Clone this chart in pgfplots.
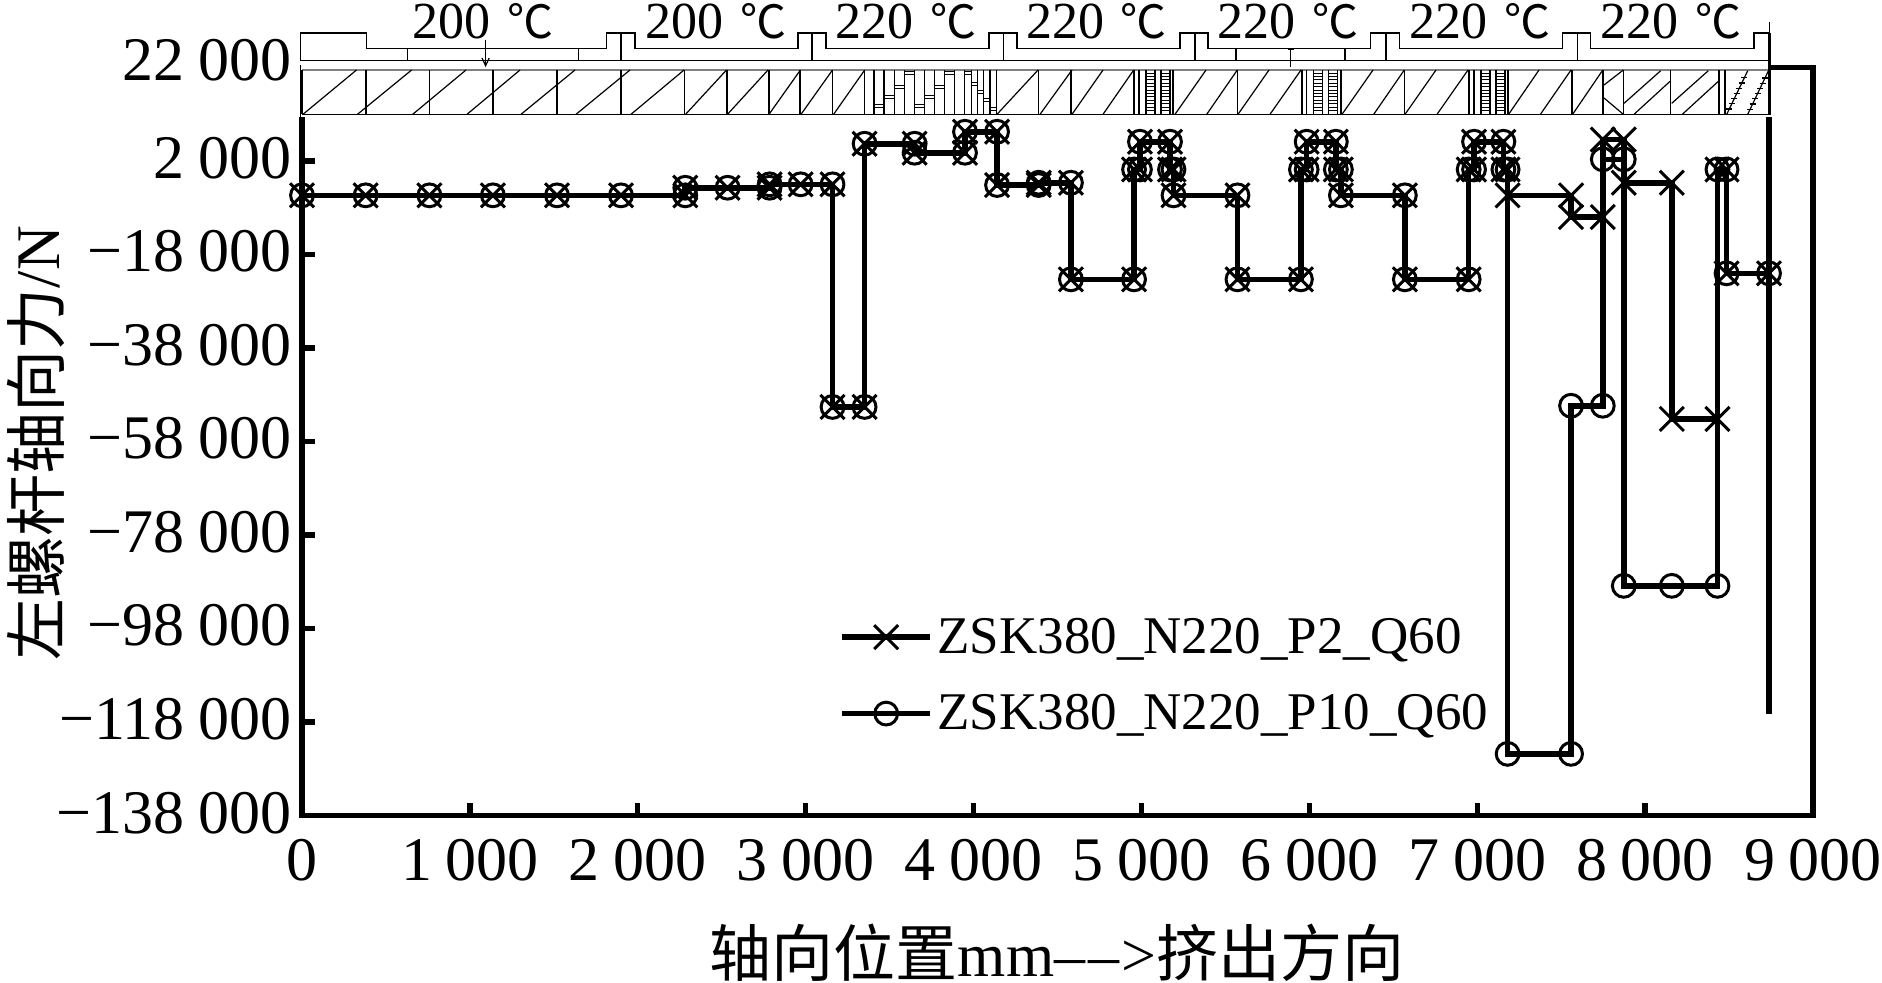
\documentclass[border=0pt]{standalone}
\usepackage{fontspec}
\setmainfont{Liberation Serif}
\newfontfamily\cjk{Noto Sans CJK SC}
\usepackage{pgfplots}
\pgfplotsset{compat=1.18}
\newcommand{\fsize}[1]{\fontsize{#1}{#1}\selectfont}
\newcommand{\sep}{\kern.22em}
\begin{document}
\begin{tikzpicture}
% one pixel of the reference is 0.5pt here
\path[use as bounding box] (0,0) rectangle (941pt,-491pt);
\begin{axis}[
    at={(151pt,-33.75pt)}, anchor=north west,
    scale only axis, width=755.5pt, height=374.1pt,
    xmin=0, xmax=9000, ymin=-138000, ymax=22000,
    clip=false,
    axis line style={line width=2.7pt},
    tick align=inside, major tick length=6.4pt,
    major tick style={line width=2.7pt, black},
    xtick pos=bottom, ytick pos=left,
    scaled ticks=false,
    xtick={0,1000,2000,3000,4000,5000,6000,7000,8000,9000},
    xticklabels={0,1\sep 000,2\sep 000,3\sep 000,4\sep 000,5\sep 000,6\sep 000,7\sep 000,8\sep 000,9\sep 000},
    ytick={-138000,-118000,-98000,-78000,-58000,-38000,-18000,2000,22000},
    yticklabels={−138\sep 000,−118\sep 000,−98\sep 000,−78\sep 000,−58\sep 000,−38\sep 000,−18\sep 000,2\sep 000,\raisebox{4.5pt}{22\sep 000}},
    tick label style={font=\fsize{31}},
    x tick label style={inner sep=0pt, yshift=-11.8pt},
    y tick label style={inner sep=0pt, xshift=-5pt, yshift=1.5pt},
    every axis x label/.style={at={(axis description cs:0.4997,-0.1835)},anchor=center,font=\fsize{31}},
    every axis y label/.style={at={(axis description cs:-0.176,0.498)},rotate=90,anchor=center,font=\fsize{31}},
    xlabel={{\cjk 轴向位置}mm--\kern1.5pt--\kern1pt>{\cjk 挤出方向}},
    ylabel={{\cjk 左螺杆轴向力}/N},
    legend style={at={(0.3554,0.1876)}, anchor=west, draw=none, fill=none,
        font=\fsize{26.5}, row sep=14.5pt, inner sep=0pt, nodes={inner sep=2.3pt}},
    legend cell align=left,
    legend image code/.code={
        \draw[#1] (0pt,0pt) -- (44pt,0pt);
        \draw[#1] plot coordinates {(22pt,0pt)};
    },
]

\addplot[black, line width=2.8pt, line join=miter, mark=x, mark size=8.5pt,
    mark options={solid, line width=1.5pt}]
    coordinates {
    (0,-5335) (379,-5335) (759,-5335) (1137,-5335) (1519,-5335) (1900,-5335) (2283,-5335)
    (2283,-3710) (2535,-3710) (2785,-3710) (2785,-2980) (2970,-2980) (3160,-2980)
    (3160,-50585) (3351,-50585) (3351,5700) (3649,5700) (3649,3775) (3949,3775)
    (3949,8265) (4140,8265) (4140,-3130) (4388,-3130) (4388,-2640) (4580,-2640)
    (4580,-23300) (4956,-23300) (4956,200) (4991,200) (4991,6130) (5170,6130) (5170,200)
    (5191,200) (5191,-5335) (5572,-5335) (5572,-23300) (5950,-23300) (5950,200)
    (5984,200) (5984,6130) (6158,6130) (6158,200) (6188,200) (6188,-5335) (6569,-5335)
    (6569,-23300) (6949,-23300) (6949,200) (6981,200) (6981,6130) (7156,6130) (7156,200)
    (7181,200) (7181,-5335) (7559,-5335) (7559,-9975) (7748,-9975) (7748,6600)
    (7873,6600) (7873,-2640) (8159,-2640) (8159,-53150) (8431,-53150) (8431,200)
    (8485,200) (8485,-22015) (8738,-22015)
    };
\addlegendentry{ZSK380\_N220\_P2\_Q60}

\addplot[black, line width=2.8pt, line join=miter, mark=o, mark size=5.7pt,
    mark options={solid, line width=1.5pt}]
    coordinates {
    (0,-5335) (379,-5335) (759,-5335) (1137,-5335) (1519,-5335) (1900,-5335) (2283,-5335)
    (2283,-3710) (2535,-3710) (2785,-3710) (2785,-2980) (2970,-2980) (3160,-2980)
    (3160,-50585) (3351,-50585) (3351,5700) (3649,5700) (3649,3775) (3949,3775)
    (3949,8265) (4140,8265) (4140,-3130) (4388,-3130) (4388,-2640) (4580,-2640)
    (4580,-23300) (4956,-23300) (4956,200) (4991,200) (4991,6130) (5170,6130) (5170,200)
    (5191,200) (5191,-5335) (5572,-5335) (5572,-23300) (5950,-23300) (5950,200)
    (5984,200) (5984,6130) (6158,6130) (6158,200) (6188,200) (6188,-5335) (6569,-5335)
    (6569,-23300) (6949,-23300) (6949,200) (6981,200) (6981,6130) (7156,6130) (7156,200)
    (7181,200) (7181,-124770) (7559,-124770) (7559,-50330) (7748,-50330) (7748,2360)
    (7873,2360) (7873,-88840) (8159,-88840) (8431,-88840) (8431,200)
    (8485,200) (8485,-22015) (8738,-22015)
    };
\addlegendentry{ZSK380\_N220\_P10\_Q60}

% last wall of the barrel, no marks
\addplot[black, line width=2.8pt, forget plot] coordinates {(8738,11400) (8738,-116260)};
\end{axis}

% barrel and screw sketch along the top, in reference pixels
\begin{scope}[x=0.5pt,y=-0.5pt]
\fill[white] (298,0) rectangle (1771,116.5);
\draw[line width=0.6pt] (300.4,65) -- (300.4,117);
\begin{scope}[line width=0.6pt, line join=miter]
  % barrel outline
  \draw (300.4,60.3) -- (300.4,33) -- (366.7,33) -- (366.7,48.3) -- (606.5,48.3) -- (606.5,33)
    -- (635,33) -- (635,48.3) -- (798,48.3) -- (798,33) -- (826,33) -- (826,48.3)
    -- (989,48.3) -- (989,33) -- (1017,33) -- (1017,48.3) -- (1180,48.3) -- (1180,33)
    -- (1208,33) -- (1208,48.3) -- (1370.5,48.3) -- (1370.5,33) -- (1399.7,33) -- (1399.7,48.3)
    -- (1562.4,48.3) -- (1562.4,33) -- (1590.5,33) -- (1590.5,48.3) -- (1754,48.3) -- (1754,33)
    -- (1769.5,33);
  \draw (300.4,60.3) -- (1769.5,60.3);
  \foreach \x in {621,812,1003.5,1195,1386,1577.7} \draw (\x,33) -- (\x,60.3);
  \foreach \x in {407.6,578.5,1236,1345} \draw (\x,48.3) -- (\x,60.3);
  % feed arrow and vent mark
  \draw (485.6,40) -- (485.6,65.7);
  \draw (482,58) -- (485.6,65.7) -- (489.2,58);
  \draw (1290.7,49) -- (1290.7,66.7);
  \draw (1287.5,49) -- (1293.9,49);
  % screw block
  \draw[gray, line width=0.9pt] (302,70) -- (1769.5,70);
  \draw (302,114.3) -- (1769.5,114.3);
  \foreach \x in {302,366,429.5,493,557,621,684.6,727,769,800,832.5,864.7,
      1038.7,1071,1572,1603,1623.3,1670.7,1719,1725,1237.3,1404.8}
    \draw (\x,70) -- (\x,114.3);
  % conveying flights
  \foreach \a/\b in {303/356.5,357.5/411.6,412.7/466,467/520,521/575,576/630,631/684,
      685.6/726.5,727.5/768,769/800.4,801/832.5,833.6/864.7,
      997/1038,1040/1072,1072/1103,1103/1133.7,
      1175/1206,1206.7/1237.3,1238/1269,1270/1301,
      1342/1373,1373.7/1404.3,1405/1436,1437/1468,
      1508.6/1539,1540.4/1571,1572.6/1602.8}
    \draw (\a,114.3) -- (\b,70);
  % kneading block
  \foreach \x in {874,884,894.3,904.3,914.3,924.3,934.3,944.3,954.3,964.3,971.7,977.7,983.7,990,996.7}
    \draw (\x,70) -- (\x,114.3);
  \foreach \a/\b/\y in {874/884/106,884/894.3/97,894.3/904.3/87,904.3/914.3/73,
      914.3/924.3/106,924.3/934.3/97,934.3/944.3/87,944.3/954.3/73,
      964.3/971.7/73,971.7/977.7/84,977.7/983.7/92,983.7/990/100,990/996.7/109}
    {\draw (\a,\y-1.5) -- (\b,\y-1.5); \draw (\a,\y+1.5) -- (\b,\y+1.5);}
  % three narrow gear blocks
  \foreach \o in {1134,1301.6,1469} {
    \draw[line width=1.1pt] (\o,70) -- (\o,114.3);
    \draw (\o+5,70) -- (\o+5,114.3);
    \draw (\o+12,70) -- (\o+12,114.3);
    \draw (\o+21,70) -- (\o+21,114.3);
    \draw (\o+27,70) -- (\o+27,114.3);
    \draw (\o+36,70) -- (\o+36,114.3);
    \draw[line width=1.1pt] (\o+39,70) -- (\o+39,114.3);
    \foreach \y in {73,76.4,...,112} {
      \draw[line width=0.45pt] (\o+12,\y) -- (\o+21,\y);
      \draw[line width=0.45pt] (\o+27,\y) -- (\o+36,\y);
    }
  }
  % reverse element and double flights
  \draw (1604,85) -- (1623.3,70);
  \draw (1604,98) -- (1623.3,114.3);
  \draw (1624,103.3) -- (1660.7,70.7);
  \draw (1634,114.3) -- (1670.7,80.7);
  \draw (1671.7,103.3) -- (1708.3,70.7);
  \draw (1682.3,114.3) -- (1719,80.7);
  % barbed flights at the tip
  \draw (1726.7,114.3) -- (1747.7,70.7);
  \draw (1747.7,114.3) -- (1768.3,71);
  \foreach \t in {0.12,0.24,...,0.95} {
    \draw ({1723.7+21*\t},{114.3-43.6*\t}) -- ({1729.7+21*\t},{114.3-43.6*\t});
    \draw ({1744.7+20.6*\t},{114.3-43.3*\t}) -- ({1750.7+20.6*\t},{114.3-43.3*\t});
  }
\end{scope}
\draw[line width=1.2pt] (1769.5,33) -- (1769.5,115);
\draw[line width=0.5pt] (1769.5,22) -- (1769.5,33);
% zone temperatures
\foreach \x/\t in {483/200,716/200,906/220,1096.5/220,1288/220,1480/220,1671/220}
  \node[font=\fsize{26}, inner sep=0pt] at (\x,21) {\t\hspace{0.32em}{\cjk\fontsize{23}{23}\selectfont ℃}};
\end{scope}
\end{tikzpicture}
\end{document}
